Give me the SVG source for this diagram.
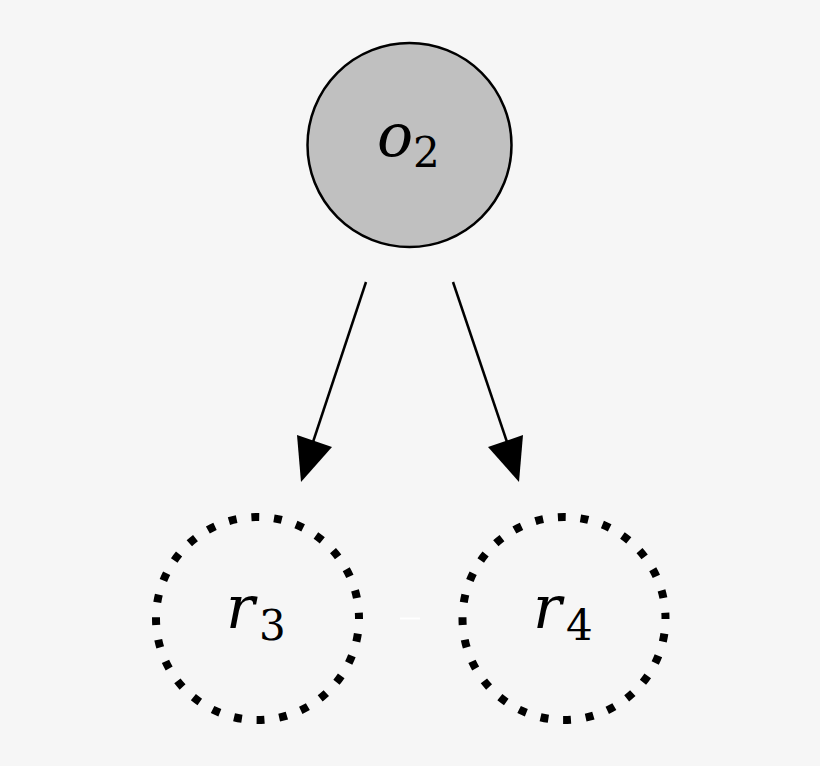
<svg xmlns="http://www.w3.org/2000/svg" width="820" height="766" viewBox="0 0 820 766">
<defs>
<style>
.edge{stroke:#000;stroke-width:2.5;fill:none}
.head{fill:#000}
</style>
</defs>
<rect x="0" y="0" width="820" height="766" fill="#f6f6f6"/>
<g id="connectors">
<line class="edge" x1="366" y1="282" x2="312" y2="445"/>
<polygon class="head" points="301,482 297,435 332,447"/>
<line class="edge" x1="453" y1="282" x2="508" y2="445"/>
<polygon class="head" points="519,482 488,447 523,435"/>
</g>
<g id="o2">
<circle cx="409.5" cy="145" r="102" fill="#c0c0c0" stroke="#000" stroke-width="2.5"/>
<text x="377" y="156" font-family="DejaVu Serif" font-style="italic" font-size="60">o</text>
<text x="413" y="167" font-family="DejaVu Serif" font-size="42">2</text>
</g>
<g id="r3">
<circle cx="257.5" cy="618.5" r="101.5" fill="none" stroke="#000" stroke-width="8" stroke-dasharray="8 14.8" stroke-dashoffset="7.5"/>
<text x="226" y="628" font-family="DejaVu Serif" font-style="italic" font-size="60">r</text>
<text x="259" y="640" font-family="DejaVu Serif" font-size="42">3</text>
</g>
<g id="r4">
<circle cx="564" cy="618.5" r="101.5" fill="none" stroke="#000" stroke-width="8" stroke-dasharray="8 14.8" stroke-dashoffset="7.5"/>
<text x="533" y="628" font-family="DejaVu Serif" font-style="italic" font-size="60">r</text>
<text x="566" y="640" font-family="DejaVu Serif" font-size="42">4</text>
</g>
<line x1="400" y1="618.5" x2="420" y2="618.5" stroke="#ffffff" stroke-width="2"/>
</svg>
